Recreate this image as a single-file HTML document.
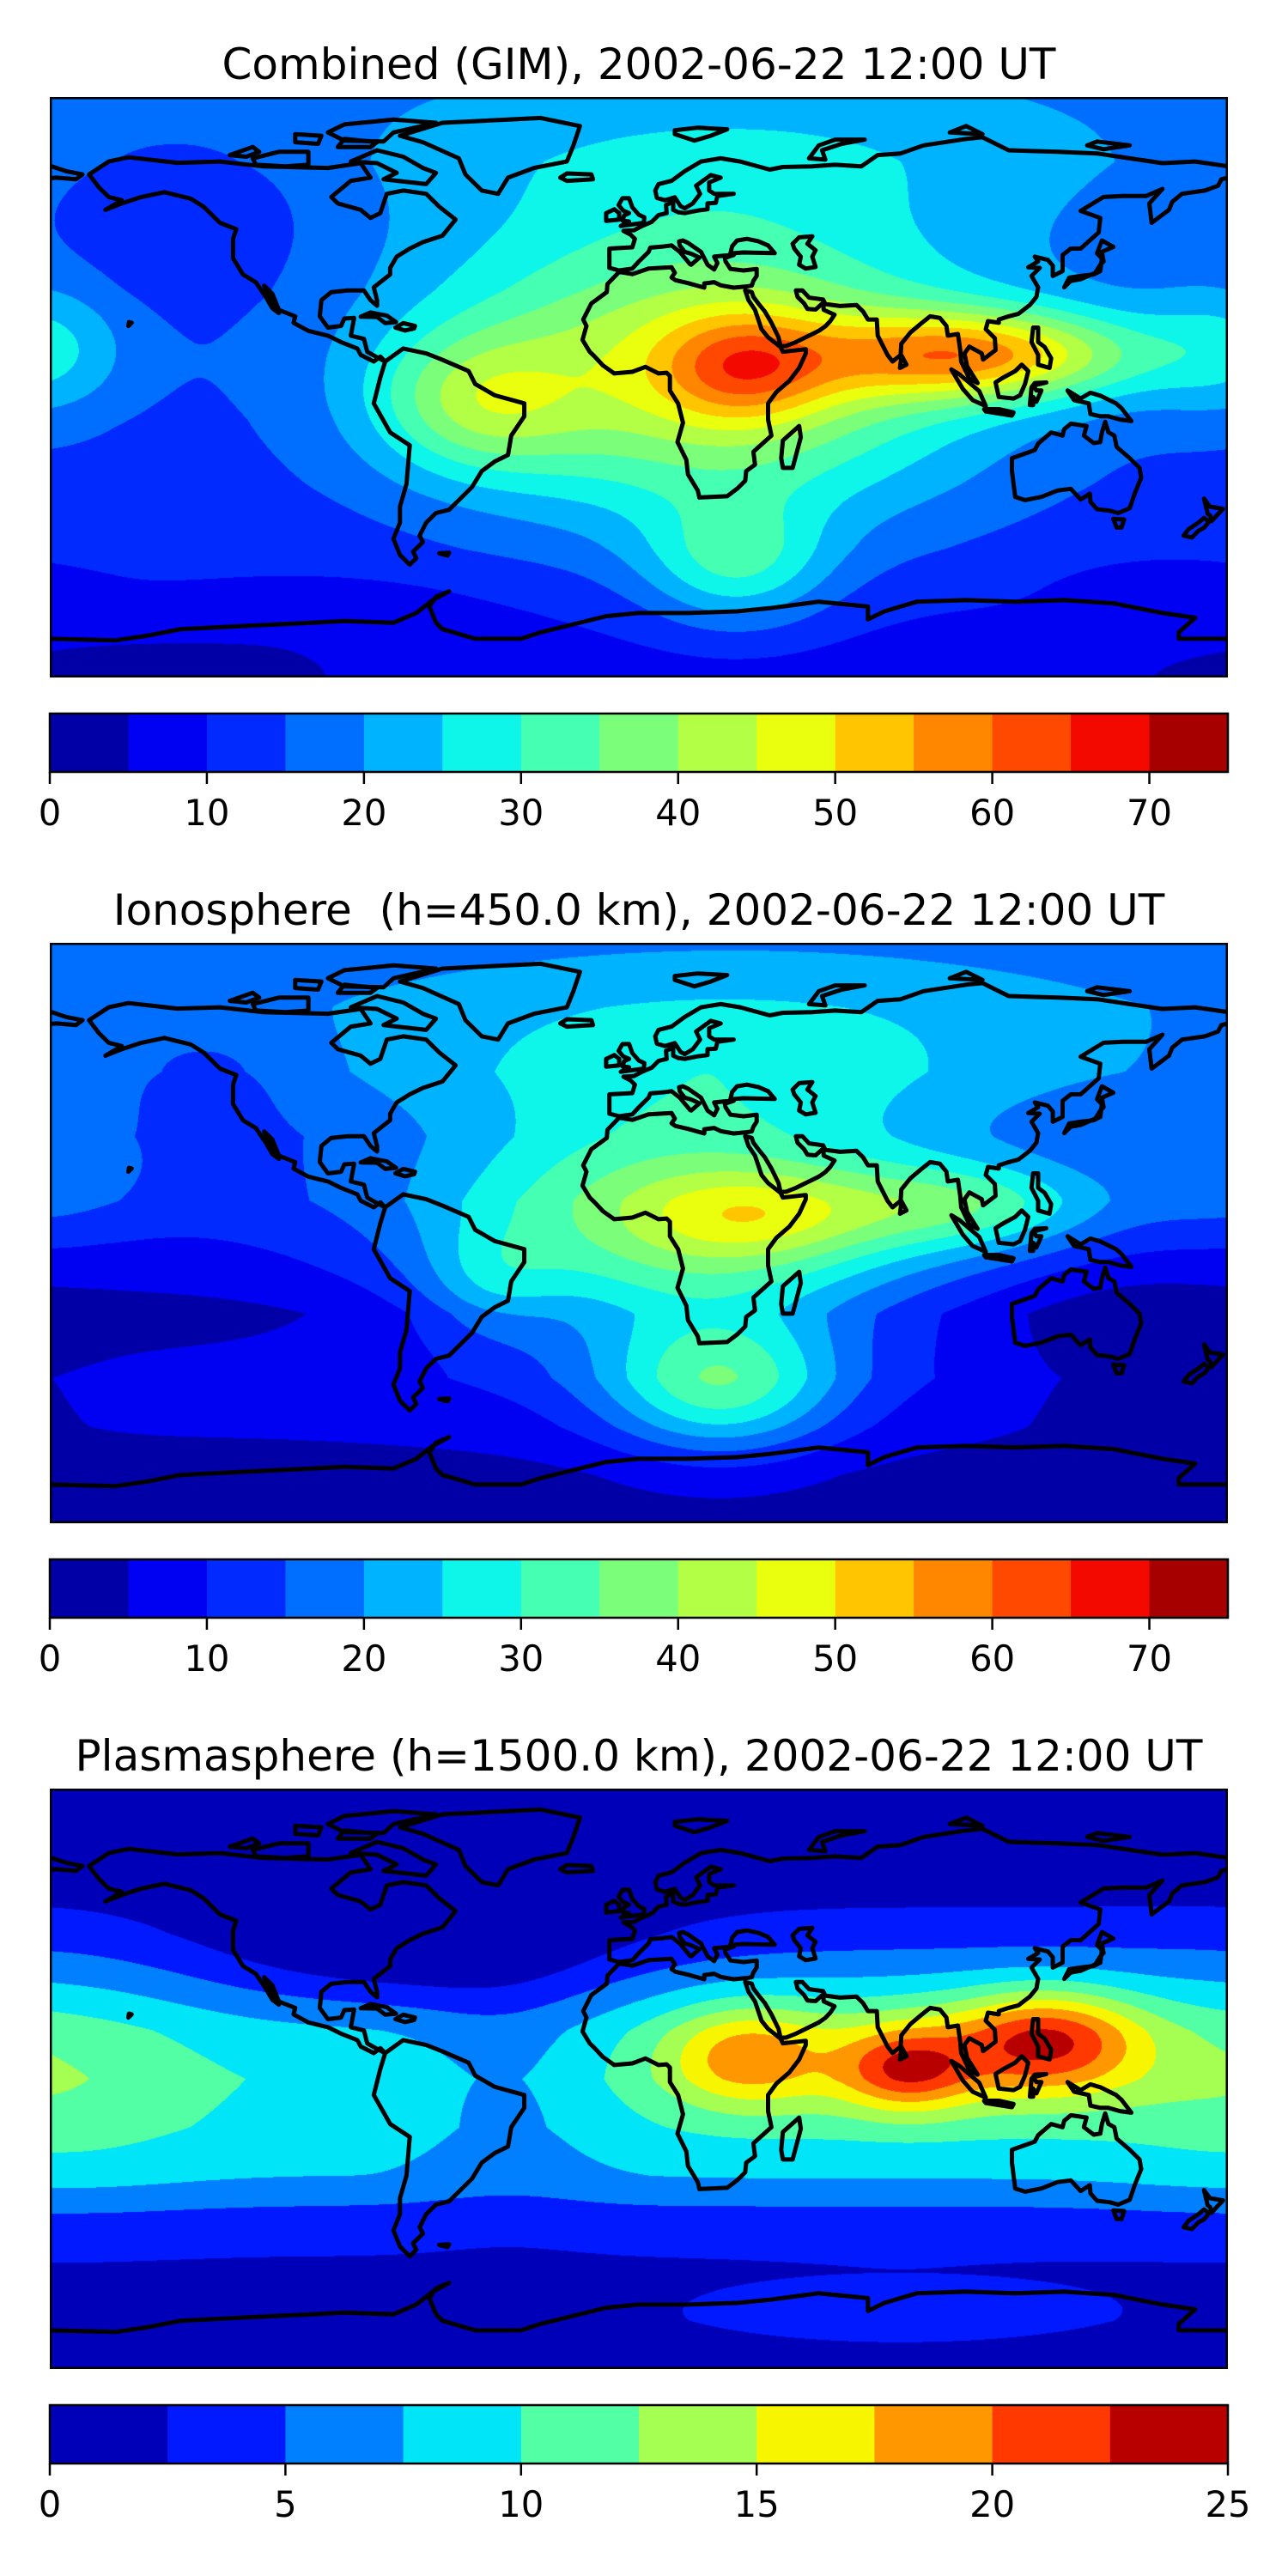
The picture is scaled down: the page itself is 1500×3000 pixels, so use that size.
<!DOCTYPE html>
<html><head><meta charset="utf-8"><style>
html,body{margin:0;padding:0;background:#fff;}
body{width:1500px;height:3000px;position:relative;overflow:hidden;font-family:"DejaVu Sans","Liberation Sans",sans-serif;}
.title{position:absolute;left:0;width:1488px;text-align:center;font-size:50px;line-height:50px;color:#000;white-space:pre;}
.map{position:absolute;left:58px;width:1372px;height:676px;}
.map canvas,.map svg{position:absolute;left:0;top:0;}
.cb{position:absolute;left:0;}
</style></head><body>
<div class="title" style="top:50px">Combined (GIM), 2002-06-22 12:00 UT</div>
<div class="map" id="map1" style="top:113px"></div>
<svg class="cb" id="cb1" width="1500" height="170" style="top:821px"></svg>

<div class="title" style="top:1035px">Ionosphere  (h=450.0 km), 2002-06-22 12:00 UT</div>
<div class="map" id="map2" style="top:1098px"></div>
<svg class="cb" id="cb2" width="1500" height="170" style="top:1806px"></svg>

<div class="title" style="top:2020px">Plasmasphere (h=1500.0 km), 2002-06-22 12:00 UT</div>
<div class="map" id="map3" style="top:2083px"></div>
<svg class="cb" id="cb3" width="1500" height="170" style="top:2791px"></svg>

<script>
// ---- Field data ----
const m1BaseLat=[90,70,50,30,10,-10,-30,-50,-70,-90];
const m1BaseVal=[19,19,17,15,14,13,12.5,11.5,9,7];
const m1GLon=[20,32,105,30,180,-140,30,-90,160,-50,-150];
const m1GLat=[5,6,10,-55,12,55,70,-70,-62,-5,-88];
const m1GAmp=[32,18,33,16,10,-7,5,-3,-4,16,-5];
const m1GSx=[60,18,35,20,18,30,60,30,20,22,40];
const m1GSy=[32,12,10,14,16,20,15,8,6,15,8];

const m2BaseLat=[90,70,50,30,10,-10,-25,-45,-60,-75,-90];
const m2BaseVal=[17,18,17,13,12,7,3,6.5,5.5,3,3];
const m2GLon=[15,35,25,100,30,-45,-180,-130,150];
const m2GLat=[0,5,-48,8,58,-15,20,50,-40];
const m2GAmp=[28,12,22,16,8,8,6,-4,-3.5];
const m2GSx=[55,25,25,30,80,15,20,20,25];
const m2GSy=[28,10,15,10,20,12,15,12,20];

const m3BaseLat=[90,60,45,30,15,0,-15,-30,-45,-60,-75,-90];
const m3BaseVal=[1,1.5,3.5,6,8.5,9.5,9,7.5,3.5,2,2,1.5];
const m3GLon=[32,82,125,80,-175,-40,-70,80,-83];
const m3GLat=[7,3,12,8,0,0,42,-72,-16];
const m3GAmp=[7,9,11,5,2.5,-2.5,-5,1.5,1];
const m3GSx=[17,14,20,55,30,20,45,45,6];
const m3GSy=[11,9,11,16,25,25,14,8,6];

// colorbar data
const cb1Ticks=[0,10,20,30,40,50,60,70];
const cb3Ticks=[0,5,10,15,20,25];

// ---- Coastlines (lon,lat) ----
const COAST=[
[[-168,66],[-162,70],[-156,71.3],[-141,69.6],[-128,70],[-115,68.5],[-95,68],[-85,69.5],[-82,65],[-88,64],[-94,59],[-92,57],[-85,55],[-82,52.5],[-79,54],[-77,60],[-72,61],[-65,60],[-61,56],[-56,52],[-60,47],[-66,45],[-70,43],[-74,40.5],[-76,37],[-76,35],[-81,31],[-80,27],[-80,25.3],[-82,27],[-84,30],[-89,30],[-94,29.5],[-97,27],[-97.5,22],[-95,18.5],[-91,19],[-90,21.3],[-87,21.5],[-88,16],[-84,15],[-83,11],[-79.5,9],[-77.5,8],[-79,9.5],[-81,8],[-85,10],[-86,12],[-91,14],[-95,16],[-101,17.5],[-105.5,20],[-105,22],[-110,24],[-112,29],[-114.5,31.5],[-113,28],[-110,23],[-112,24.5],[-114,28],[-116,31],[-117,32.5],[-121,35],[-124,40],[-124,46],[-123,49],[-128,51],[-133,56],[-137,58.5],[-145,60.5],[-152,59],[-158,57],[-163,55],[-158,58],[-162,59],[-165,62],[-168,66]],
[[-77.5,8],[-72,12],[-65,10.5],[-60,8.5],[-52,5],[-50,1],[-44,-2.5],[-35,-5],[-35,-9],[-39,-15],[-40,-21],[-44,-23],[-48,-26],[-51,-31],[-55,-35],[-58,-38],[-62,-39],[-65,-42],[-67,-46],[-66,-48],[-69,-51],[-68,-53],[-70,-55],[-73,-52],[-75,-47],[-73,-42],[-73,-37],[-71,-30],[-70,-18],[-76,-14],[-81,-5],[-80,-1],[-79,3],[-77.5,8]],
[[-73,78],[-60,82],[-30,83.5],[-18,81],[-20,75],[-22,70],[-32,68],[-40,65],[-43,60],[-48,61],[-53,66],[-55,71],[-66,76],[-73,78]],
[[32.5,30],[33.5,27],[35.5,24],[37.5,18],[39.5,15.5],[43.3,12.5],[44,11],[51,11.8],[51,10.5],[49,6],[46,2],[42,-1.5],[39.5,-5],[39.5,-10],[40.5,-15],[35,-20],[35.5,-24],[32.8,-26],[32.5,-29],[30,-31.5],[27,-33.8],[22,-34],[18.5,-34.2],[18,-32],[15,-27],[14.5,-22.5],[11.8,-17],[13.5,-11],[12,-5],[9.5,-1],[9.5,3.5],[8.5,4.5],[6,4.3],[2,6.3],[-2,4.8],[-7.5,4.3],[-11,6.8],[-13.5,9.5],[-15,11],[-17.2,14.7],[-16,19],[-17,21],[-14.5,26],[-9.8,29.5],[-9.6,32],[-6,35.8],[-2,35.1],[3,36.8],[10,37.2],[11,35.5],[10,34],[11.2,33.2],[15,32.3],[20,30.9],[20,32.2],[23,32.6],[25,31.6],[29,30.9],[32.5,31.2],[34.5,31.5],[35,33],[36,34.5],[36,36.7],[32,36.2],[28,36.7],[26.5,39],[26.3,40.1],[29,41],[26,40.8],[23,40.5],[24,38.5],[23,36.5],[21,38],[19.5,41],[19,42],[15,44.8],[13.5,45.5],[12.3,45.2],[12.5,44],[14,42],[16,41.4],[18.5,40.2],[16,38],[15.6,38.2],[12.5,42],[10,44],[7,43.6],[3.5,43.3],[3,42],[0,39],[-2,36.8],[-6,36.2],[-9,37],[-9,43],[-2,43.4],[-1.2,46],[-2.5,47.3],[-4.7,48.5],[-1.5,48.7],[1,50],[4,51.3],[6,53.4],[8.5,54],[8.3,56.5],[10.5,57.5],[10.5,55],[12,54.3],[14,54],[18,54.8],[21,55.2],[21,57],[23.5,57.2],[24,59.3],[29,60],[23,60],[21.5,61],[21.5,63.5],[25,65],[22,65.8],[17.5,62.5],[18.7,60],[16.5,57],[14,55.5],[12.7,56.2],[11,58.9],[8,58],[5.5,58.7],[5,61],[6,63],[10,64],[14,67],[19,70],[25,71],[31,70],[40,67.5],[44,68.3],[53,68.5],[60,69],[68,68.5],[73,72],[80,72.5],[87,75],[100,77],[105,77.5],[113,73.5],[128,73],[140,72.5],[150,71],[160,69.5],[170,70],[180,68.5]],
[[180,65],[178,64.5],[177,62.5],[173,61],[166,60],[163,57.5],[162,55],[156.7,51],[156,57],[160,61.5],[155,59.3],[148,59.3],[142,59],[135,54.7],[141,52.5],[140.5,48],[135,43],[132,43],[129.5,41],[129.5,36],[126.5,34.5],[126.5,37.7],[125,39.5],[121,40.5],[122,39],[119,37.2],[122.5,37],[120,34.5],[122,31],[121.5,28],[119.5,25.5],[116,22.8],[113,22],[110,21],[110,20],[106.7,20.5],[106,18],[108.8,15.2],[109,11.5],[105.2,8.6],[104.8,10.5],[101,12.6],[99.5,10.5],[100.3,6.5],[103.5,1.3],[101,2.7],[98.5,8],[98.2,11.5],[97.5,16.5],[94.4,16],[94,19],[92,21.5],[89,22],[86.5,20],[83,17],[80.2,13.5],[80,10],[77.5,8],[76,10],[73,16],[72.7,21],[70,21],[68.5,23.5],[66.5,25.5],[61.5,25.2],[57,25.8],[56.3,27.2],[52,27.8],[50,30],[48,30],[48.5,28],[50.5,26],[51.5,24.3],[54,24.1],[56.3,26.2],[56.5,24],[59.8,22.5],[58.5,20.5],[57,18.9],[55,17.5],[52,16],[48,14],[45,12.8],[43.3,12.7],[42.7,15.5],[40.5,20],[38.5,23.5],[36.5,26],[35,28],[34.5,29.5],[32.5,30]],
[[-180,68.7],[-175,67],[-170,66],[-172,64.5],[-178,65],[-180,64.8]],
[[28,41.5],[28.5,43.7],[30,45.5],[33,46],[36.5,45.3],[39.5,44],[41.5,41.6],[36,41.7],[32,41.8],[28,41.5]],
[[47,44.5],[47.5,43],[49.5,40.5],[49,38],[51,36.8],[54,37.3],[53,40.5],[54,42.5],[51.5,44.5],[53,46.8],[49,46.5],[47,44.5]],
[[-5.5,50],[1.5,51],[1.7,52.7],[0,53.5],[-2,55.8],[-3,58.6],[-5,58.6],[-6.2,56.5],[-4.8,54.8],[-3,54],[-4.5,53.3],[-5,51.7],[-3,51.4],[-5.5,50]],
[[-6,52],[-6,54],[-7.5,55.2],[-10,54],[-10,51.6],[-6,52]],
[[-22,64],[-14,64.5],[-14.5,66],[-22,66.3],[-24,65],[-22,64]],
[[44,-25],[47,-25],[49.5,-15.5],[49,-12],[44,-16.5],[43.5,-22],[44,-25]],
[[130,31],[131.5,34],[135,34.5],[139,35],[141,36],[141.5,40],[140,41.5],[141.5,45.5],[145,43.5],[141.5,42],[142,39],[141,38],[139.5,35.5],[135,33.5],[132,33],[130,31]],
[[120.5,18.5],[122,18.5],[122,14],[124,12.5],[126,9],[125.5,6],[122,7],[122,10],[120,14],[120.5,18.5]],
[[109,1.5],[111,2.8],[115,5],[117,7],[119,5],[118,1],[116.5,-2.5],[114.5,-3.5],[110,-3],[109,1.5]],
[[95.5,5.5],[98,4],[104,-1.2],[106,-5.8],[102,-4],[99,-0.5],[95.5,5.5]],
[[105.5,-6.8],[110,-6.8],[114.5,-7.8],[114,-8.8],[106,-7.5],[105.5,-6.8]],
[[119.5,-5.5],[120,0],[121,1.3],[124.5,1.5],[120.5,0.5],[121.5,-1],[123,-1],[121.5,-4.5],[120.5,-3],[120.5,-5.5],[119.5,-5.5]],
[[131,-1],[135,-3.5],[138,-1.7],[141,-2.6],[145.8,-5],[147.5,-6.5],[150.5,-10.5],[147,-10],[143.5,-9],[141,-9],[138,-8.3],[137.5,-5],[133,-4],[131,-1]],
[[114,-22],[114,-26],[115,-34],[118,-35],[123,-34],[128,-32],[132,-31.5],[135,-34.8],[137.8,-33],[138,-35.5],[140,-37.8],[144,-38.3],[146.5,-39],[150,-37.5],[151.5,-33],[153.5,-28],[153,-25],[150,-22],[146,-18.5],[145.3,-15],[143.5,-14],[142.5,-10.7],[141.5,-14],[141,-17],[139,-17.3],[136,-15],[136.8,-12],[132,-11.3],[130,-13],[129.5,-15],[126,-14],[122,-17.5],[121,-19.5],[114,-22]],
[[145,-40.8],[148.3,-41],[147.5,-43.5],[146,-43.5],[145,-40.8]],
[[172.7,-34.5],[174.5,-37],[178.5,-37.7],[177,-39.3],[175,-41.5],[174.6,-39.8],[173.8,-39.2],[172.7,-34.5]],
[[172.7,-40.5],[174.2,-41.7],[172.7,-43.6],[171,-44.5],[169,-46.6],[166.5,-46],[168,-44],[171,-42],[172.7,-40.5]],
[[79.8,6],[81.8,7],[80.3,9.8],[79.8,6]],
[[-85,21.9],[-82,23.2],[-77,22.2],[-74.2,20.2],[-77.5,19.9],[-80,21.8],[-85,21.9]],
[[-74.4,18.5],[-72,19.9],[-68.4,19],[-68.7,18.2],[-71.5,17.6],[-74.4,18.5]],
[[-80,73.5],[-72,71.5],[-66,68],[-62,66.5],[-65,63],[-72,63.8],[-78,64.5],[-74,66.5],[-80,69.5],[-88,70],[-80,73.5]],
[[-118,71],[-110,73],[-101,73],[-101,69],[-108,68.5],[-117,69],[-118,71]],
[[-90,76.5],[-78,76.2],[-75,79],[-62,82],[-75,83],[-90,81.5],[-95,79],[-90,76.5]],
[[-125,72],[-118,74.5],[-116,73],[-120,71.5],[-125,72]],
[[-92,74.5],[-82,74.5],[-80,76],[-90,77],[-92,74.5]],
[[-105,76],[-98,75.5],[-97,78],[-105,78.5],[-105,76]],
[[11,78.5],[17,76.5],[22,78],[27,80],[18,80.5],[11,79.7],[11,78.5]],
[[52,71],[57,70.6],[56,73.5],[62,75.5],[69,76.8],[60,76.8],[55,75],[52,71]],
[[95,79],[105,78.5],[100,81],[95,79]],
[[137,75],[142,73.8],[150,75],[140,76.2],[137,75]],
[[-61,-51.5],[-58,-51.3],[-58.5,-52.2],[-61,-51.5]],
[[-156,19],[-155,20],[-155.8,20.2],[-156,19]],
[[-180,-78],[-160,-78.5],[-150,-77],[-140,-75],[-120,-74],[-100,-73],[-90,-72.5],[-75,-73],[-68,-70],[-63,-66],[-58,-63.3],[-62,-65],[-64,-68],[-62,-73],[-60,-75],[-50,-78],[-36,-78],[-30,-76],[-20,-73.5],[-10,-71],[0,-70],[15,-70],[30,-69.5],[40,-68.5],[55,-66.5],[70,-68],[70,-72],[75,-69.5],[85,-66.5],[100,-66],[115,-66.5],[130,-66],[145,-67],[160,-70],[170,-71.5],[165,-76],[165,-78],[180,-78]]
];

const JR=[[0,0],[0.35,0],[0.66,1],[0.89,1],[1,0.5]];
const JG=[[0,0],[0.125,0],[0.375,1],[0.64,1],[0.91,0],[1,0]];
const JB=[[0,0.5],[0.11,1],[0.34,1],[0.65,0],[1,0]];
function seg(p,t){for(let i=1;i<p.length;i++){if(t<=p[i][0]){const a=p[i-1],b=p[i];return a[1]+(b[1]-a[1])*(t-a[0])/(b[0]-a[0]);}}return p[p.length-1][1];}
function jet(t){return [Math.round(255*seg(JR,t)),Math.round(255*seg(JG,t)),Math.round(255*seg(JB,t))];}
function bandColors(n){const c=[];for(let i=0;i<n;i++)c.push(jet((i+0.5)/n));return c;}
function interp(xs,ys,x){for(let i=1;i<xs.length;i++){if(x>=xs[i]){const t=(x-xs[i-1])/(xs[i]-xs[i-1]);return ys[i-1]+(ys[i]-ys[i-1])*t;}}return ys[ys.length-1];}

const W=1372,H=676;
function xOf(lon){return (lon+180)/360*W;}
function yOf(lat){return (90-lat)/180*H;}

function drawMap(id,bl,bv,gl,ga,gA,gx,gy,vmax,nb,name){
  const host=document.getElementById(id);
  const cv=document.createElement('canvas');
  
  
  cv.width=W;cv.height=H;host.appendChild(cv);
  const ctx=cv.getContext('2d');const img=ctx.createImageData(W,H);
  const cols=bandColors(nb);const step=vmax/nb;
  const ng=gl.length;
  const lonF=[],latF=[];
  for(let g=0;g<ng;g++){
    const lf=new Float32Array(W);
    for(let c=0;c<W;c++){const lon=-180+(c+0.5)/W*360;let d=((lon-gl[g]+540)%360)-180;lf[c]=Math.exp(-0.5*(d/gx[g])*(d/gx[g]));}
    lonF.push(lf);
    const af=new Float32Array(H);
    for(let r=0;r<H;r++){const lat=90-(r+0.5)/H*180;const d=lat-ga[g];af[r]=gA[g]*Math.exp(-0.5*(d/gy[g])*(d/gy[g]));}
    latF.push(af);
  }
  const d=img.data;
  for(let r=0;r<H;r++){
    const lat=90-(r+0.5)/H*180;const base=interp(bl,bv,lat);
    for(let c=0;c<W;c++){
      let v=base;for(let g=0;g<ng;g++)v+=latF[g][r]*lonF[g][c];
      let k=Math.floor(v/step);if(k<0)k=0;if(k>nb-1)k=nb-1;
      const col=cols[k];const o=(r*W+c)*4;d[o]=col[0];d[o+1]=col[1];d[o+2]=col[2];d[o+3]=255;
    }
  }
  ctx.putImageData(img,0,0);
  const NS='http://www.w3.org/2000/svg';
  const svg=document.createElementNS(NS,'svg');
  svg.setAttribute('width',W);svg.setAttribute('height',H);
  
  
  COAST.forEach(function(line){
    const pl=document.createElementNS(NS,'polyline');
    pl.setAttribute('points',line.map(p=>xOf(p[0]).toFixed(1)+','+yOf(p[1]).toFixed(1)).join(' '));
    pl.setAttribute('fill','none');pl.setAttribute('stroke','#000');pl.setAttribute('stroke-width','5');
    pl.setAttribute('stroke-linejoin','round');pl.setAttribute('stroke-linecap','round');
    
    
    svg.appendChild(pl);
  });
  const fr=document.createElementNS(NS,'rect');
  fr.setAttribute('x',1.25);fr.setAttribute('y',1.25);fr.setAttribute('width',W-2.5);fr.setAttribute('height',H-2.5);
  fr.setAttribute('fill','none');fr.setAttribute('stroke','#000');fr.setAttribute('stroke-width','2.5');
  
  
  svg.appendChild(fr);
  host.appendChild(svg);
}

function drawCB(id,vmax,nb,ticks){
  const NS='http://www.w3.org/2000/svg';
  const svg=document.getElementById(id);
  const x0=58,x1=1430,top=10,h=68;
  const cols=bandColors(nb);
  const sx=v=>x0+(x1-x0)*v/vmax;
  for(let i=0;i<nb;i++){
    const r=document.createElementNS(NS,'rect');
    const a=sx(i*vmax/nb),b=sx((i+1)*vmax/nb);
    r.setAttribute('x',a);r.setAttribute('y',top);r.setAttribute('width',b-a+0.5);r.setAttribute('height',h);
    r.setAttribute('fill','rgb('+cols[i].join(',')+')');
    
    
    svg.appendChild(r);
  }
  const fr=document.createElementNS(NS,'rect');
  fr.setAttribute('x',x0);fr.setAttribute('y',top);fr.setAttribute('width',x1-x0);fr.setAttribute('height',h);
  fr.setAttribute('fill','none');fr.setAttribute('stroke','#000');fr.setAttribute('stroke-width','2.5');
  
  
  svg.appendChild(fr);
  ticks.forEach(function(t){
    const x=sx(t);
    const ln=document.createElementNS(NS,'line');
    ln.setAttribute('x1',x);ln.setAttribute('x2',x);ln.setAttribute('y1',top+h);ln.setAttribute('y2',top+h+14);
    ln.setAttribute('stroke','#000');ln.setAttribute('stroke-width','2.5');
    
    
    svg.appendChild(ln);
    const tx=document.createElementNS(NS,'text');
    tx.setAttribute('x',x);tx.setAttribute('y',top+130);tx.setAttribute('text-anchor','middle');
    tx.setAttribute('font-size','41.7');tx.setAttribute('font-family','DejaVu Sans, Liberation Sans, sans-serif');
    tx.textContent=String(t);
    
    
    svg.appendChild(tx);
  });
}

drawMap('map1',m1BaseLat,m1BaseVal,m1GLon,m1GLat,m1GAmp,m1GSx,m1GSy,75,15,'combined');
drawMap('map2',m2BaseLat,m2BaseVal,m2GLon,m2GLat,m2GAmp,m2GSx,m2GSy,75,15,'ionosphere');
drawMap('map3',m3BaseLat,m3BaseVal,m3GLon,m3GLat,m3GAmp,m3GSx,m3GSy,25,10,'plasmasphere');
drawCB('cb1',75,15,cb1Ticks);
drawCB('cb2',75,15,cb1Ticks);
drawCB('cb3',25,10,cb3Ticks);
</script>
</body></html>
